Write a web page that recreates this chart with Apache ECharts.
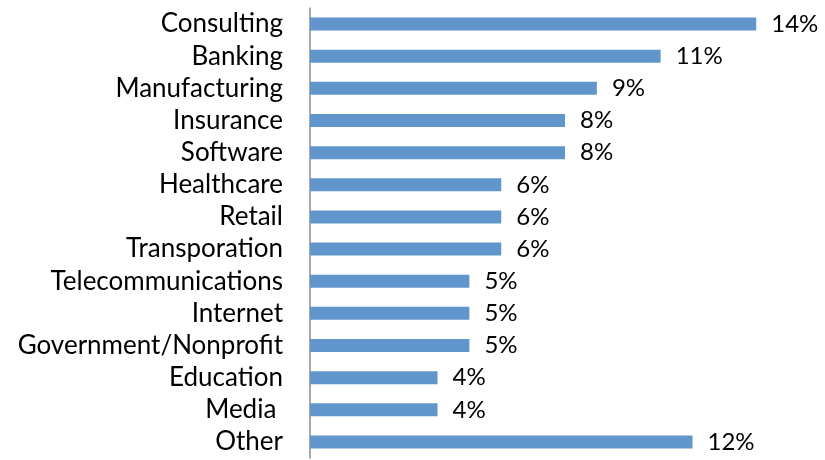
<!DOCTYPE html>
<html>
<head>
<meta charset="utf-8">
<script src="https://cdn.jsdelivr.net/npm/echarts@6/dist/echarts.min.js"></script>
<style>
  html, body { margin: 0; padding: 0; background: #fff; }
  #chart { width: 825px; height: 460px; }
</style>
</head>
<body>
<div id="chart"></div>
<script>
// top to bottom as in the picture
const industries = ['Consulting', 'Banking', 'Manufacturing', 'Insurance', 'Software',
  'Healthcare', 'Retail', 'Transporation', 'Telecommunications', 'Internet',
  'Government/Nonprofit', 'Education', 'Media ', 'Other'];
const shares = [14, 11, 9, 8, 8, 6, 6, 6, 5, 5, 5, 4, 4, 12];

const chart = echarts.init(document.getElementById('chart'));
chart.setOption({
  animation: false,
  grid: { left: 310, top: 8, width: 510, height: 450 },
  xAxis: {
    type: 'value',
    min: 0,
    max: 16,
    show: false
  },
  yAxis: {
    type: 'category',
    inverse: true,
    data: industries,
    axisLine: { lineStyle: { color: '#8c8c8c', width: 1.5 } },
    axisTick: { length: 7, lineStyle: { color: '#8c8c8c', width: 1.5 } },
    axisLabel: {
      interval: 0,
      hideOverlap: false,
      margin: 27,
      color: '#000',
      fontSize: 26,
      fontFamily: 'Lato'
    },
    splitLine: { show: false }
  },
  series: [{
    type: 'bar',
    data: shares,
    barWidth: 13,
    itemStyle: { color: '#6096cb' },
    label: {
      show: true,
      position: 'right',
      distance: 15,
      formatter: '{c}%',
      color: '#000',
      fontSize: 24,
      fontFamily: 'Lato'
    }
  }]
});
</script>
</body>
</html>
